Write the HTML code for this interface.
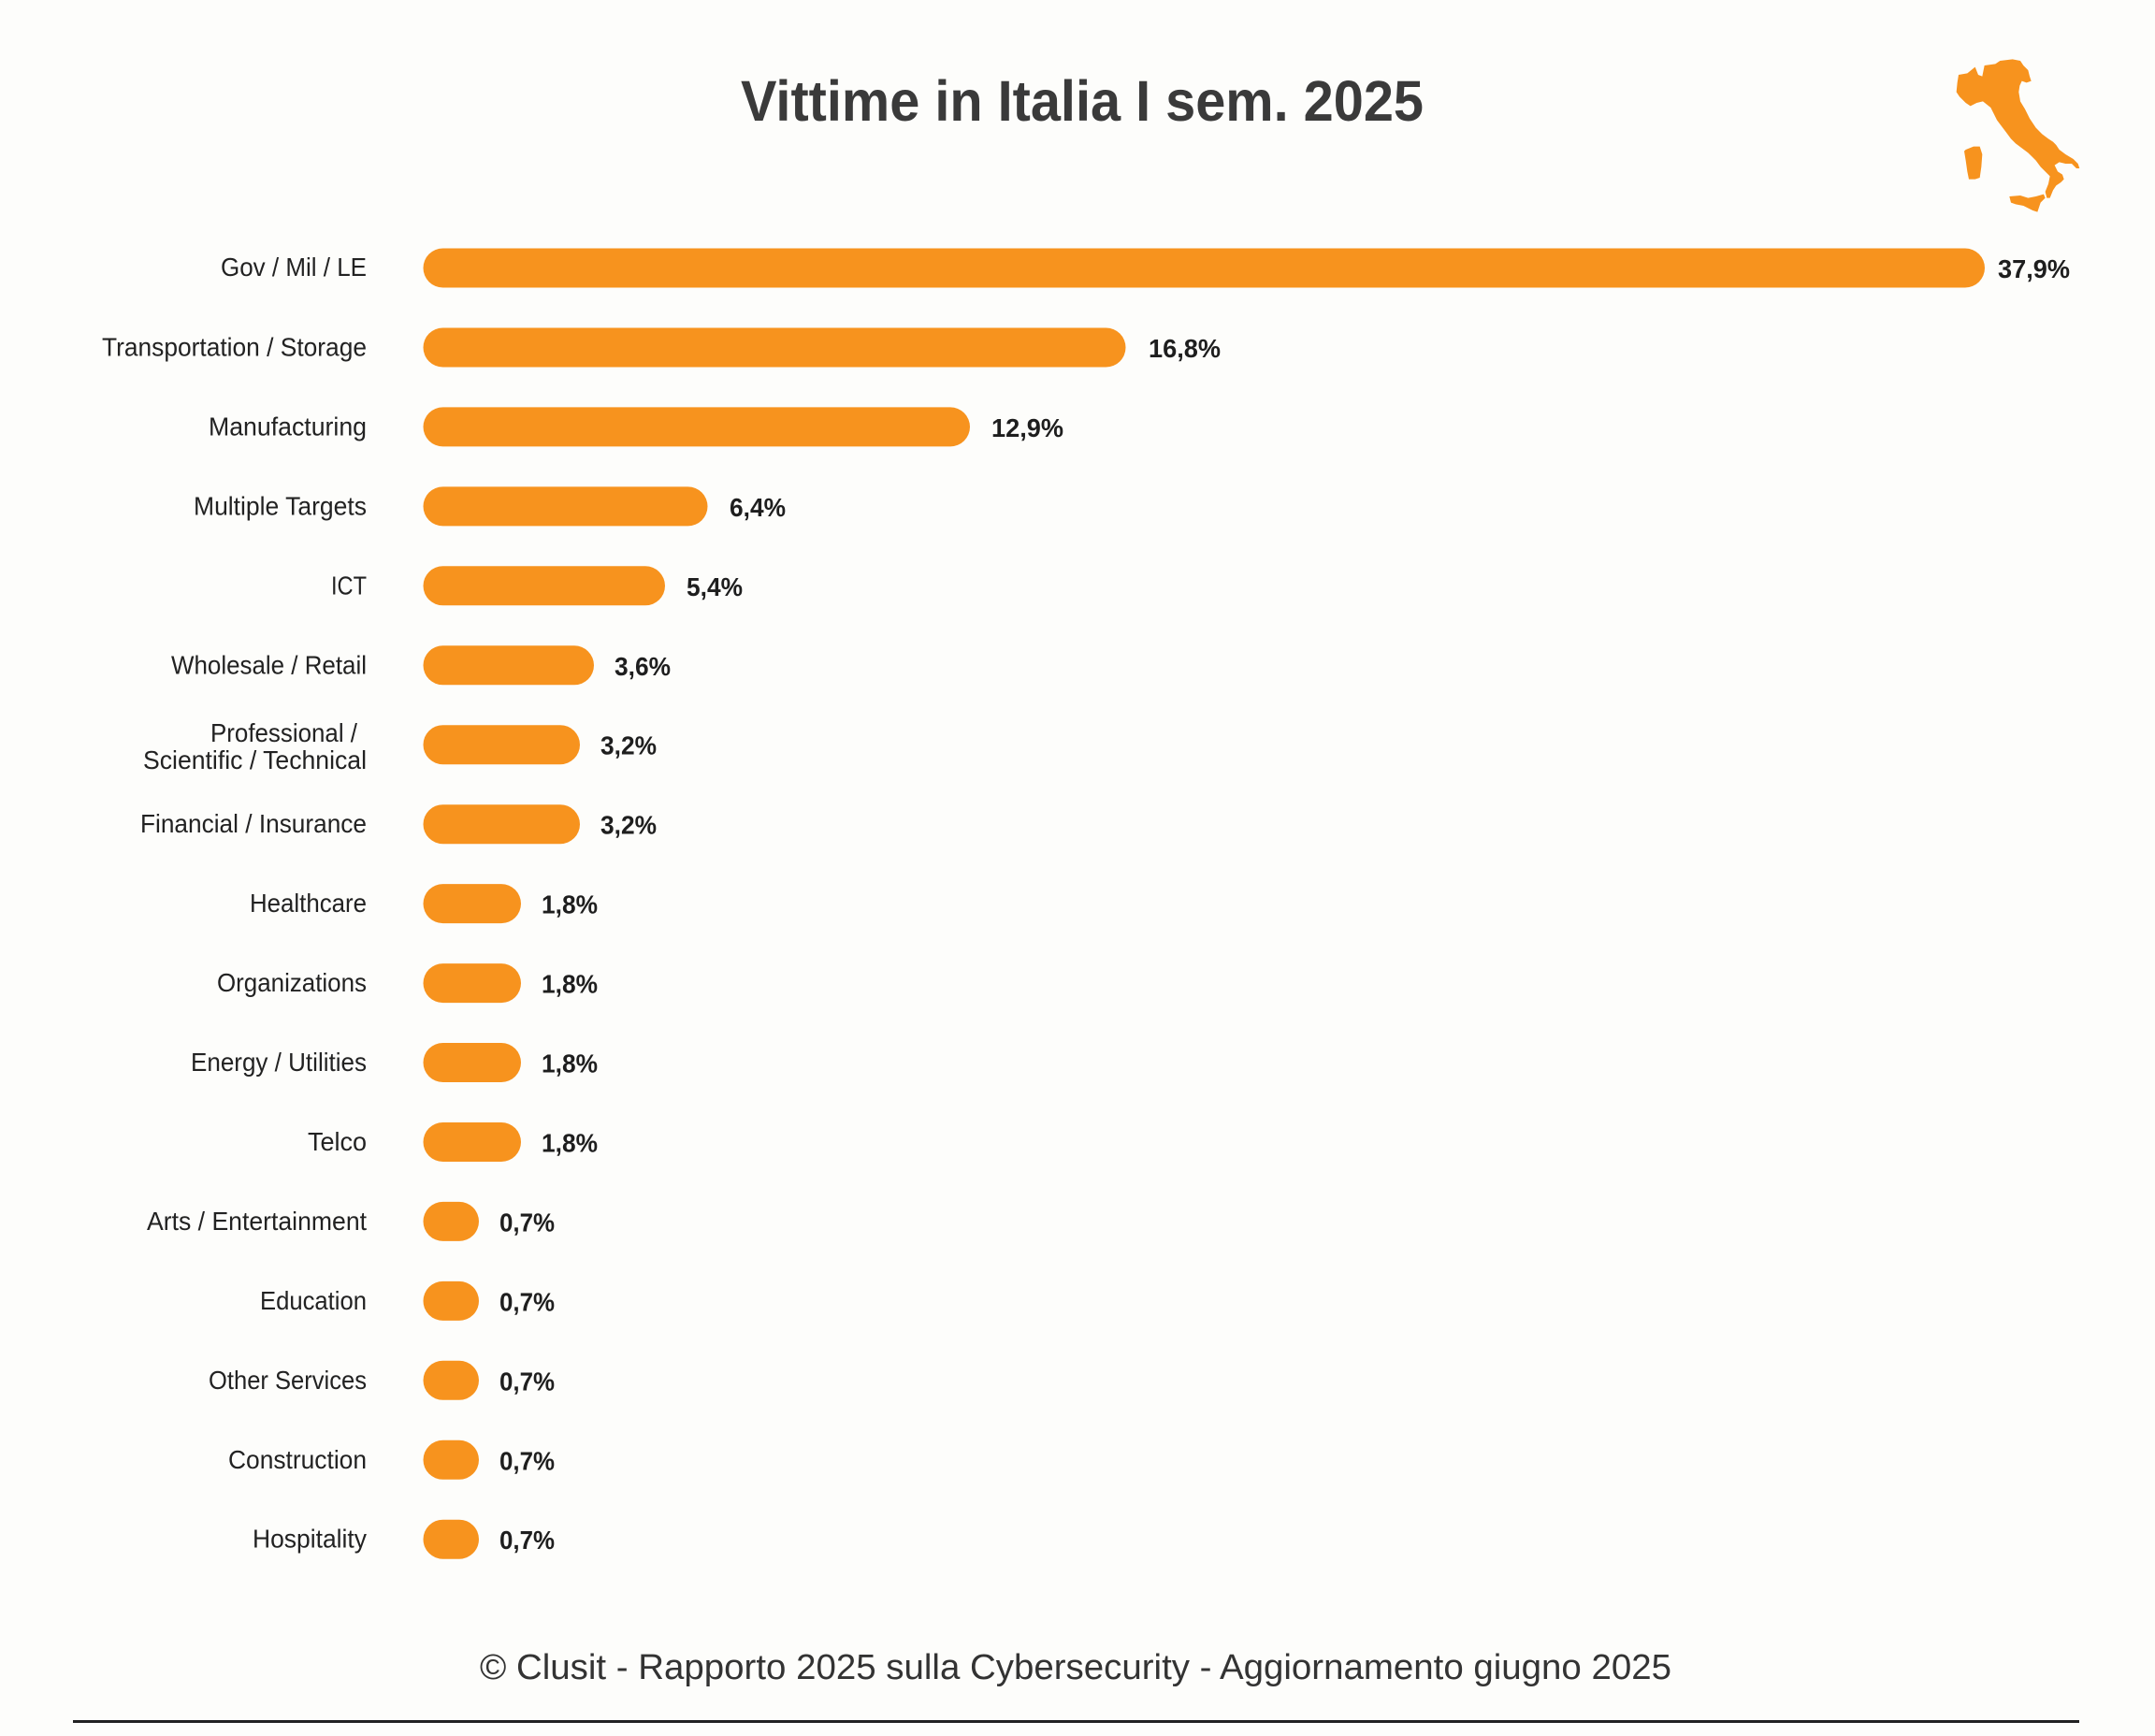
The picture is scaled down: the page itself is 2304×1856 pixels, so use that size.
<!DOCTYPE html>
<html>
<head>
<meta charset="utf-8">
<style>
  html,body{margin:0;padding:0;background:#fdfdfb;}
  svg{display:block;}
</style>
</head>
<body>
<svg width="2304" height="1856" viewBox="0 0 2304 1856" xmlns="http://www.w3.org/2000/svg">
  <rect x="0" y="0" width="2304" height="1856" fill="#fdfdfb"/>

  <!-- Title -->
  <text x="1157" y="129" text-anchor="middle" font-family="Liberation Sans, Arial, sans-serif" font-weight="bold" font-size="61" fill="#3a3a3a" textLength="730" lengthAdjust="spacingAndGlyphs">Vittime in Italia I sem. 2025</text>

  <!-- Italy map -->
  <g transform="translate(2080,55) scale(0.3333)" fill="#f7931e">
    <polygon points="42,75 70,70 95,50 105,75 118,80 125,45 160,40 175,30 215,25 240,30 250,45 265,60 270,80 275,95 260,100 245,95 238,110 235,130 240,160 255,185 270,215 290,245 310,265 330,280 345,290 355,300 365,315 385,330 410,345 425,360 430,375 420,375 405,360 385,360 365,355 350,365 360,385 375,395 380,410 370,420 355,430 345,445 335,470 325,470 320,450 330,425 335,400 320,385 305,370 290,350 275,335 265,325 245,310 225,295 210,280 195,260 180,240 165,220 155,200 145,180 120,160 100,165 80,175 65,165 45,145 35,130 38,100"/>
    <polygon points="65,315 90,305 110,305 118,330 115,370 110,405 95,410 75,410 70,385 65,350 60,320"/>
    <polygon points="205,465 240,462 265,470 290,465 315,458 320,470 305,485 300,500 295,515 280,510 250,495 225,490 210,485"/>
  </g>

  <g font-family="Liberation Sans, Arial, sans-serif" font-size="28" fill="#222">
    <!-- Bars -->
    <g fill="#f7931e">
      <rect x="452.5" y="265.5" width="1669.5" height="42" rx="21"/>
      <rect x="452.5" y="350.5" width="751" height="42" rx="21"/>
      <rect x="452.5" y="435.4" width="584.5" height="42" rx="21"/>
      <rect x="452.5" y="520.4" width="304" height="42" rx="21"/>
      <rect x="452.5" y="605.3" width="258.5" height="42" rx="21"/>
      <rect x="452.5" y="690.3" width="182.5" height="42" rx="21"/>
      <rect x="452.5" y="775.2" width="167.5" height="42" rx="21"/>
      <rect x="452.5" y="860.2" width="167.5" height="42" rx="21"/>
      <rect x="452.5" y="945.1" width="104.5" height="42" rx="21"/>
      <rect x="452.5" y="1030.1" width="104.5" height="42" rx="21"/>
      <rect x="452.5" y="1115.0" width="104.5" height="42" rx="21"/>
      <rect x="452.5" y="1200.0" width="104.5" height="42" rx="21"/>
      <rect x="452.5" y="1284.9" width="59.5" height="42" rx="21"/>
      <rect x="452.5" y="1369.9" width="59.5" height="42" rx="21"/>
      <rect x="452.5" y="1454.8" width="59.5" height="42" rx="21"/>
      <rect x="452.5" y="1539.8" width="59.5" height="42" rx="21"/>
      <rect x="452.5" y="1624.7" width="59.5" height="42" rx="21"/>
    </g>

    <!-- Category labels -->
    <g text-anchor="end" lengthAdjust="spacingAndGlyphs">
      <text x="392" y="295" textLength="156" lengthAdjust="spacingAndGlyphs">Gov / Mil / LE</text>
      <text x="392" y="380.5" textLength="283" lengthAdjust="spacingAndGlyphs">Transportation / Storage</text>
      <text x="392" y="465.4" textLength="169" lengthAdjust="spacingAndGlyphs">Manufacturing</text>
      <text x="392" y="550.4" textLength="185" lengthAdjust="spacingAndGlyphs">Multiple Targets</text>
      <text x="392" y="635.3" textLength="38" lengthAdjust="spacingAndGlyphs">ICT</text>
      <text x="392" y="720.3" textLength="209" lengthAdjust="spacingAndGlyphs">Wholesale / Retail</text>
      <text x="382" y="793" textLength="157" lengthAdjust="spacingAndGlyphs">Professional /</text>
      <text x="392" y="822" textLength="239" lengthAdjust="spacingAndGlyphs">Scientific / Technical</text>
      <text x="392" y="890.2" textLength="242" lengthAdjust="spacingAndGlyphs">Financial / Insurance</text>
      <text x="392" y="975.1" textLength="125" lengthAdjust="spacingAndGlyphs">Healthcare</text>
      <text x="392" y="1060.1" textLength="160" lengthAdjust="spacingAndGlyphs">Organizations</text>
      <text x="392" y="1145.0" textLength="188" lengthAdjust="spacingAndGlyphs">Energy / Utilities</text>
      <text x="392" y="1230.0" textLength="63" lengthAdjust="spacingAndGlyphs">Telco</text>
      <text x="392" y="1314.9" textLength="235" lengthAdjust="spacingAndGlyphs">Arts / Entertainment</text>
      <text x="392" y="1399.9" textLength="114" lengthAdjust="spacingAndGlyphs">Education</text>
      <text x="392" y="1484.8" textLength="169" lengthAdjust="spacingAndGlyphs">Other Services</text>
      <text x="392" y="1569.8" textLength="148" lengthAdjust="spacingAndGlyphs">Construction</text>
      <text x="392" y="1654.7" textLength="122" lengthAdjust="spacingAndGlyphs">Hospitality</text>
    </g>

    <!-- Value labels -->
    <g font-weight="bold" font-size="28" fill="#1e1e1e">
      <text x="2136" y="297" textLength="77" lengthAdjust="spacingAndGlyphs">37,9%</text>
      <text x="1228" y="382" textLength="77" lengthAdjust="spacingAndGlyphs">16,8%</text>
      <text x="1060" y="466.9" textLength="77" lengthAdjust="spacingAndGlyphs">12,9%</text>
      <text x="780" y="551.9" textLength="60" lengthAdjust="spacingAndGlyphs">6,4%</text>
      <text x="734" y="636.8" textLength="60" lengthAdjust="spacingAndGlyphs">5,4%</text>
      <text x="657" y="721.8" textLength="60" lengthAdjust="spacingAndGlyphs">3,6%</text>
      <text x="642" y="806.7" textLength="60" lengthAdjust="spacingAndGlyphs">3,2%</text>
      <text x="642" y="891.7" textLength="60" lengthAdjust="spacingAndGlyphs">3,2%</text>
      <text x="579" y="976.6" textLength="60" lengthAdjust="spacingAndGlyphs">1,8%</text>
      <text x="579" y="1061.6" textLength="60" lengthAdjust="spacingAndGlyphs">1,8%</text>
      <text x="579" y="1146.5" textLength="60" lengthAdjust="spacingAndGlyphs">1,8%</text>
      <text x="579" y="1231.5" textLength="60" lengthAdjust="spacingAndGlyphs">1,8%</text>
      <text x="534" y="1316.4" textLength="59" lengthAdjust="spacingAndGlyphs">0,7%</text>
      <text x="534" y="1401.4" textLength="59" lengthAdjust="spacingAndGlyphs">0,7%</text>
      <text x="534" y="1486.3" textLength="59" lengthAdjust="spacingAndGlyphs">0,7%</text>
      <text x="534" y="1571.3" textLength="59" lengthAdjust="spacingAndGlyphs">0,7%</text>
      <text x="534" y="1656.2" textLength="59" lengthAdjust="spacingAndGlyphs">0,7%</text>
    </g>
  </g>

  <!-- Footer -->
  <text x="1150" y="1795" text-anchor="middle" font-family="Liberation Sans, Arial, sans-serif" font-size="38" fill="#333" textLength="1274" lengthAdjust="spacingAndGlyphs">© Clusit - Rapporto 2025 sulla Cybersecurity - Aggiornamento giugno 2025</text>
  <rect x="78" y="1839" width="2145" height="3" fill="#222"/>
</svg>
</body>
</html>
